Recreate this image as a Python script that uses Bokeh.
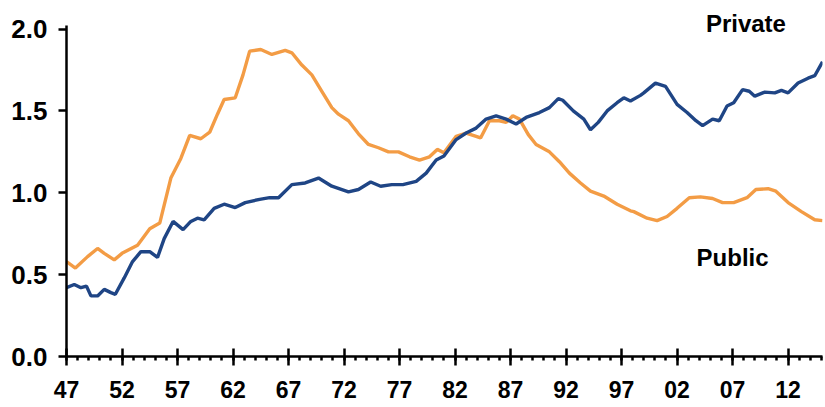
from bokeh.plotting import figure
from bokeh.models import FixedTicker, PrintfTickFormatter, Label, Range1d
from bokeh.embed import file_html
from bokeh.resources import INLINE

private_years = [1947.0, 1947.7, 1948.3, 1948.8, 1949.2, 1949.8, 1950.4, 1951.0, 1951.4, 1952.2,
                 1952.95, 1953.7, 1954.5, 1955.2, 1955.8, 1956.6, 1957.5, 1958.2, 1958.8, 1959.4,
                 1960.3, 1961.2, 1962.2, 1963.1, 1964.4, 1965.3, 1966.1, 1967.3, 1968.5, 1969.7,
                 1970.9, 1972.4, 1973.3, 1974.4, 1975.3, 1976.3, 1977.3, 1978.5, 1979.4, 1980.3,
                 1981.0, 1982.1, 1983.0, 1983.9, 1984.8, 1985.7, 1986.6, 1987.5, 1988.4, 1989.6,
                 1990.5, 1991.3, 1991.7, 1992.65, 1993.6, 1994.2, 1994.9, 1995.7, 1996.6, 1997.2,
                 1997.8, 1998.7, 1999.0, 2000.05, 2000.96, 2002.0, 2002.9, 2003.7, 2004.3, 2005.2,
                 2005.8, 2006.5, 2007.1, 2007.9, 2008.5, 2009.0, 2009.9, 2010.8, 2011.4, 2012.0,
                 2012.9, 2013.8, 2014.4, 2015.1]
private_values = [0.42, 0.44, 0.42, 0.43, 0.37, 0.37, 0.41, 0.39, 0.38, 0.48,
                  0.58, 0.64, 0.64, 0.605, 0.72, 0.825, 0.775, 0.825, 0.845, 0.835,
                  0.905, 0.93, 0.91, 0.94, 0.96, 0.97, 0.97, 1.05, 1.06, 1.09,
                  1.04, 1.005, 1.02, 1.066, 1.04, 1.05, 1.05, 1.07, 1.12, 1.20,
                  1.225, 1.325, 1.365, 1.395, 1.45, 1.47, 1.45, 1.42, 1.46, 1.49,
                  1.52, 1.575, 1.565, 1.50, 1.45, 1.385, 1.43, 1.50, 1.55, 1.58,
                  1.56, 1.595, 1.61, 1.67, 1.65, 1.54, 1.49, 1.44, 1.41, 1.45,
                  1.44, 1.53, 1.55, 1.63, 1.62, 1.59, 1.615, 1.61, 1.625, 1.61,
                  1.67, 1.70, 1.715, 1.80]

public_years = [1947.0, 1947.8, 1948.9, 1949.8, 1950.4, 1951.3, 1952.0, 1953.4, 1954.5, 1955.4,
                1956.4, 1957.3, 1958.1, 1959.1, 1959.9, 1960.6, 1961.2, 1962.2, 1962.9, 1963.5,
                1964.5, 1965.5, 1966.7, 1967.3, 1968.2, 1969.1, 1970.0, 1970.9, 1971.5, 1972.4,
                1973.3, 1974.2, 1975.1, 1976.0, 1976.9, 1977.9, 1978.8, 1979.7, 1980.4, 1981.0,
                1982.1, 1983.0, 1983.9, 1984.3, 1985.1, 1986.0, 1986.6, 1987.2, 1987.8, 1988.6,
                1989.3, 1990.5, 1991.4, 1992.3, 1993.3, 1994.2, 1995.4, 1996.6, 1997.8, 1998.1,
                1999.3, 2000.2, 2001.1, 2002.0, 2003.1, 2004.1, 2005.2, 2006.1, 2007.1, 2008.3,
                2009.1, 2010.2, 2010.9, 2012.0, 2013.2, 2014.4, 2015.1]
public_values = [0.58, 0.54, 0.61, 0.66, 0.63, 0.59, 0.63, 0.68, 0.78, 0.815,
                 1.09, 1.21, 1.35, 1.33, 1.37, 1.48, 1.57, 1.58, 1.72, 1.865,
                 1.875, 1.845, 1.87, 1.855, 1.78, 1.72, 1.62, 1.52, 1.48, 1.44,
                 1.36, 1.295, 1.275, 1.25, 1.25, 1.22, 1.20, 1.22, 1.265, 1.245,
                 1.345, 1.365, 1.345, 1.335, 1.44, 1.44, 1.43, 1.47, 1.45, 1.355,
                 1.295, 1.25, 1.19, 1.12, 1.06, 1.01, 0.98, 0.93, 0.89, 0.885,
                 0.845, 0.83, 0.855, 0.905, 0.97, 0.975, 0.965, 0.94, 0.94, 0.97,
                 1.02, 1.025, 1.01, 0.94, 0.885, 0.835, 0.83]

x_major_ticks = [1947, 1952, 1957, 1962, 1967, 1972, 1977, 1982, 1987, 1992, 1997, 2002, 2007, 2012]
x_tick_labels = ["47", "52", "57", "62", "67", "72", "77", "82", "87", "92", "97", "02", "07", "12"]
x_minor_ticks = list(range(1947, 2016))
y_ticks = [0.0, 0.5, 1.0, 1.5, 2.0]

series_labels = ["Private", "Public"]

FONT = "Liberation Sans"

p = figure(width=825, height=407, output_backend="svg", toolbar_location=None,
           x_range=Range1d(1947, 2015.1), y_range=Range1d(0, 2.15),
           min_border_left=66, min_border_right=3, min_border_top=4, min_border_bottom=51)
p.outline_line_color = None
p.xgrid.visible = False
p.ygrid.visible = False
p.background_fill_color = "white"
p.border_fill_color = "white"

p.line(public_years, public_values, line_color="#F39C45", line_width=3.4)
p.line(private_years, private_values, line_color="#1F4585", line_width=3.4)

xa = p.xaxis[0]
xa.ticker = FixedTicker(ticks=x_major_ticks, minor_ticks=x_minor_ticks)
xa.major_label_overrides = {t: l for t, l in zip(x_major_ticks, x_tick_labels)}
xa.axis_line_width = 2.5
xa.axis_line_color = "black"
xa.major_tick_line_width = 2.5
xa.major_tick_in = 8
xa.major_tick_out = 9
xa.minor_tick_line_width = 2.5
xa.minor_tick_in = 0
xa.minor_tick_out = 4
xa.major_label_text_font = FONT
xa.major_label_text_font_style = "bold"
xa.major_label_text_font_size = "23px"
xa.major_label_text_color = "black"
xa.major_label_standoff = 15

ya = p.yaxis[0]
ya.ticker = FixedTicker(ticks=y_ticks, minor_ticks=[])
ya.formatter = PrintfTickFormatter(format="%.1f")
ya.bounds = (0, 2.02)
ya.axis_line_width = 2.5
ya.axis_line_color = "black"
ya.major_tick_line_width = 2.5
ya.major_tick_in = 0
ya.major_tick_out = 8
ya.minor_tick_line_color = None
ya.major_label_text_font = FONT
ya.major_label_text_font_style = "bold"
ya.major_label_text_font_size = "26px"
ya.major_label_text_color = "black"
ya.major_label_standoff = 11

for txt, x, y in [(series_labels[0], 2008.2, 2.035), (series_labels[1], 2007.0, 0.605)]:
    p.add_layout(Label(x=x, y=y, text=txt, text_align="center", text_baseline="middle",
                       text_font=FONT, text_font_style="bold",
                       text_font_size="24px", text_color="black"))

open("out.html", "w").write(file_html(p, INLINE))
